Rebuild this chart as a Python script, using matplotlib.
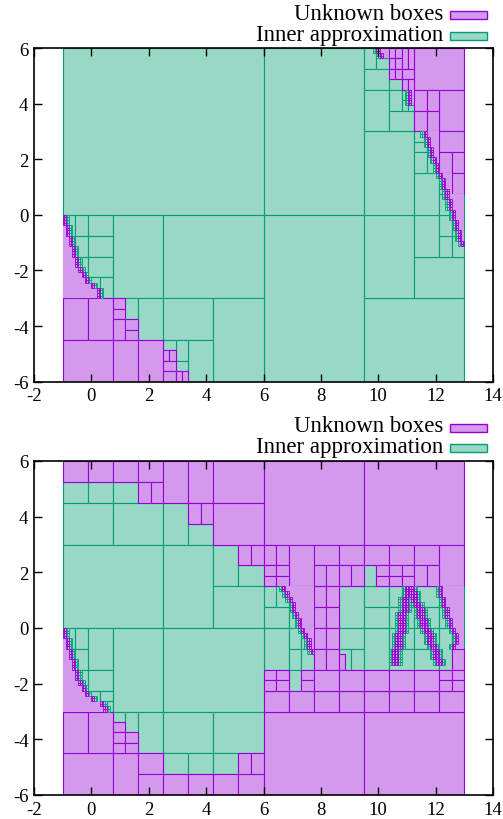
import matplotlib
matplotlib.use("Agg")
import matplotlib.pyplot as plt
from matplotlib.patches import Rectangle

# colours (gnuplot dark-violet / green, fill = 40% over white)
PURPLE = '#9400d3'
GREEN = '#009e73'
PURPLE_FILL = '#d499ed'
GREEN_FILL = '#99d8c7'

# fine boundary cells (data units)
CELL_W = 0.109375
CELL_H = 0.1875

# ---------------- top panel ----------------
# boxes are (x0, x1, y0, y1)
top_inner = [
    (-1, 6, 0, 6), (6, 9.5, 0, 6), (6, 9.5, -6, 0), (9.5, 13, -6, -3),
    (9.5, 11.25, -3, 0), (11.25, 13, -3, -1.5), (11.25, 12.125, -1.5, 0),
    (12.125, 12.5625, -1.5, -0.75), (12.125, 12.5625, -0.75, 0),
    (12.5625, 13, -1.5, -0.75), (12.5625, 13, -0.75, 0),
    (9.5, 11.25, 0, 3), (11.25, 12.125, 0, 1.5),
    (12.125, 12.5625, 0, 0.75), (12.125, 12.5625, 0.75, 1.5), (12.5625, 13, 0, 0.75),
    (11.25, 11.6875, 2.625, 3), (11.25, 11.6875, 2.25, 2.625),
    (11.25, 11.6875, 1.5, 2.25), (11.6875, 12.125, 1.5, 2.25), (11.6875, 12.125, 2.25, 3),
    (9.5, 9.9375, 5.25, 6), (9.9375, 10.375, 5.25, 5.625), (9.9375, 10.375, 5.625, 6),
    (9.5, 10.375, 4.5, 5.25), (9.5, 10.375, 3, 4.5),
    (10.375, 10.8125, 4.5, 4.875), (10.375, 10.8125, 3.75, 4.5),
    (10.8125, 11.03125, 4.125, 4.5), (10.8125, 11.03125, 3.75, 4.125),
    (11.03125, 11.25, 3.75, 3.9375), (10.375, 11.25, 3, 3.75),
    # bottom left
    (-1, -0.5625, -0.75, 0), (-0.5625, -0.125, -0.75, 0),
    (-1, -0.5625, -1.5, -0.75), (-0.5625, -0.125, -1.5, -0.75),
    (-0.125, 0.75, -0.75, 0), (-0.125, 0.75, -1.5, -0.75),
    (-1, -0.5625, -2.25, -1.5), (-0.5625, -0.125, -2.25, -1.5),
    (-0.125, 0.75, -2.25, -1.5), (-0.125, 0.3125, -3, -2.25), (0.3125, 0.75, -3, -2.25),
    (0.75, 2.5, -3, 0), (2.5, 6, -3, 0),
    (1.1875, 1.625, -3.75, -3), (1.625, 2.5, -4.5, -3), (2.5, 4.25, -4.5, -3),
    (4.25, 6, -6, -3), (3.375, 4.25, -6, -4.5), (2.9375, 3.375, -5.25, -4.5),
    (2.5, 2.9375, -4.875, -4.5), (2.9375, 3.375, -5.625, -5.25),
]
top_unknown = [
    (11.25, 13, 4.5, 6), (12.125, 13, 3, 4.5),
    (11.25, 11.6875, 3.75, 4.5), (11.6875, 12.125, 3.75, 4.5),
    (11.25, 11.6875, 3, 3.75), (11.6875, 12.125, 3, 3.75),
    (12.125, 13, 2.25, 3), (12.125, 12.5625, 1.5, 2.25), (12.5625, 13, 1.5, 2.25),
    (12.5625, 13, 0.75, 1.5),
    (10.375, 10.59375, 5.625, 6), (10.59375, 10.8125, 5.625, 6),
    (10.375, 10.59375, 5.25, 5.625), (10.59375, 10.8125, 5.25, 5.625),
    (10.8125, 11.03125, 5.25, 6), (11.03125, 11.25, 5.25, 6),
    (10.375, 10.59375, 4.875, 5.25), (10.59375, 10.8125, 4.875, 5.25),
    (10.8125, 11.25, 4.875, 5.25), (10.8125, 11.03125, 4.5, 4.875),
    (11.03125, 11.25, 4.5, 4.875),
    (-1, -0.5625, -3, -2.25), (-0.5625, -0.125, -3, -2.25),
    (-1, -0.125, -4.5, -3), (-0.125, 0.75, -4.5, -3), (-1, 0.75, -6, -4.5),
    (0.75, 1.625, -6, -4.5), (1.625, 2.5, -6, -4.5),
    (0.75, 1.1875, -3.375, -3), (0.75, 1.1875, -3.75, -3.375), (0.75, 1.1875, -4.5, -3.75),
    (1.1875, 1.625, -4.125, -3.75), (1.1875, 1.625, -4.5, -4.125),
    (2.5, 2.71875, -5.25, -4.875), (2.71875, 2.9375, -5.25, -4.875),
    (2.5, 2.9375, -5.625, -5.25), (2.5, 2.9375, -6, -5.625),
    (2.9375, 3.15625, -6, -5.625), (3.15625, 3.375, -6, -5.625),
]
# boundary rows: (row bottom y, x of boundary cell, outer edge)
top_rows_left = [
    (-0.1875, -1.0, -1), (-0.375, -1.0, -1), (-0.5625, -0.890625, -1), (-0.75, -0.890625, -1),
    (-0.9375, -0.78125, -1), (-1.125, -0.78125, -1), (-1.3125, -0.671875, -1),
    (-1.5, -0.671875, -1), (-1.6875, -0.5625, -1), (-1.875, -0.5625, -1),
    (-2.0625, -0.453125, -1), (-2.25, -0.34375, -1), (-2.4375, -0.234375, -1),
    (-2.625, -0.015625, -1), (-2.8125, 0.203125, -1), (-3.0, 0.203125, -1),
]
top_rows_right = [
    (5.8125, 9.9375, 10.375), (5.625, 10.046875, 10.375),
    (4.3125, 11.03125, 11.25), (4.125, 11.03125, 11.25), (3.9375, 11.03125, 11.25),
    (2.8125, 11.578125, 12.125), (2.625, 11.6875, 12.125), (2.4375, 11.6875, 12.125),
    (2.25, 11.796875, 12.125), (2.0625, 11.796875, 12.125), (1.875, 11.90625, 12.125),
    (1.6875, 12.015625, 12.125), (1.5, 12.015625, 12.125), (1.3125, 12.125, 12.5625),
    (1.125, 12.234375, 12.5625), (0.9375, 12.234375, 12.5625), (0.75, 12.34375, 12.5625),
    (0.5625, 12.34375, 13), (0.375, 12.453125, 13), (0.1875, 12.453125, 13),
    (0.0, 12.5625, 13), (-0.1875, 12.5625, 13), (-0.375, 12.671875, 13),
    (-0.5625, 12.671875, 13), (-0.75, 12.78125, 13), (-0.9375, 12.78125, 13),
    (-1.125, 12.890625, 13),
]

# ---------------- bottom panel ----------------
bot_inner = [
    (-1, -0.125, 4.5, 5.25), (-0.125, 0.75, 4.5, 5.25), (0.75, 1.625, 4.5, 5.25),
    (-1, 0.75, 3, 4.5), (0.75, 2.5, 3, 4.5), (2.5, 3.375, 3, 4.5), (3.375, 4.25, 3, 3.75),
    (-1, 2.5, 0, 3), (2.5, 4.25, 0, 3), (4.25, 5.125, 1.5, 3), (5.125, 6, 1.5, 2.25),
    (4.25, 6, 0, 1.5), (6, 6.4375, 0.75, 1.5), (6, 6.875, 0, 0.75), (6, 6.875, -1.5, 0),
    (-1, -0.5625, -0.75, 0), (-0.5625, -0.125, -0.75, 0),
    (-1, -0.5625, -1.5, -0.75), (-0.5625, -0.125, -1.5, -0.75), (-0.125, 0.75, -1.5, 0),
    (-1, -0.5625, -2.25, -1.5), (-0.5625, -0.125, -2.25, -1.5), (-0.125, 0.75, -2.25, -1.5),
    (-0.125, 0.3125, -3, -2.25), (0.3125, 0.75, -2.625, -2.25),
    (0.3125, 0.53125, -3, -2.625), (0.53125, 0.75, -3, -2.625),
    (0.75, 2.5, -3, 0), (2.5, 6, -3, 0),
    (0.75, 1.1875, -3.375, -3), (1.1875, 1.625, -3.75, -3), (1.625, 2.5, -4.5, -3),
    (2.5, 4.25, -4.5, -3), (4.25, 6, -4.5, -3),
    (2.5, 3.375, -5.25, -4.5), (3.375, 4.25, -5.25, -4.5), (4.25, 5.125, -5.25, -4.5),
    # middle band
    (6.4375, 6.875, 0.75, 1.5), (6.875, 7.3125, 0.75, 1.5), (7.3125, 7.75, 0.75, 1.5),
    (6.875, 7.3125, 0, 0.75), (7.3125, 7.75, 0, 0.75),
    (6.875, 7.3125, -0.75, 0), (7.3125, 7.75, -0.75, 0),
    (6.875, 7.3125, -1.5, -0.75), (7.3125, 7.75, -1.5, -0.75),
    (6.875, 7.3125, -2.25, -1.5),
    (8.625, 9.5, 0, 1.5), (8.625, 9.5, -0.75, 0), (8.625, 9.0625, -1.5, -0.75),
    (9.0625, 9.5, -1.5, -0.75), (9.5, 10.375, 0.75, 1.5), (9.5, 10.375, 0, 0.75),
    (9.5, 10.375, -1.5, 0), (9.5, 9.9375, 1.5, 2.25),
    (10.375, 10.8125, 0.75, 1.5), (10.8125, 11.25, 0.75, 1.5),
    (10.375, 11.25, 0, 0.75), (10.375, 11.25, -0.75, 0), (10.375, 11.25, -1.5, -0.75),
    (11.25, 12.125, 0.75, 1.5), (11.25, 12.125, 0, 0.75),
    (11.25, 12.125, -0.75, 0), (11.25, 12.125, -1.5, -0.75),
    (12.125, 12.5625, -1.5, 0), (12.125, 12.5625, 0.75, 1.5), (12.5625, 13, 0.75, 1.5),
    (12.125, 12.5625, 0, 0.75), (12.5625, 13, 0, 0.75),
    (12.5625, 13, -0.75, 0),
]
bot_unknown = [
    (-1, -0.125, 5.25, 6), (-0.125, 0.75, 5.25, 6), (0.75, 1.625, 5.25, 6),
    (1.625, 2.5, 5.25, 6), (1.625, 2.0625, 4.5, 5.25), (2.0625, 2.5, 4.5, 5.25),
    (2.5, 3.375, 4.5, 6), (3.375, 4.25, 4.5, 6), (4.25, 6, 4.5, 6),
    (3.375, 3.8125, 3.75, 4.5), (3.8125, 4.25, 3.75, 4.5), (4.25, 6, 3, 4.5),
    (5.125, 5.5625, 2.25, 3), (5.5625, 6, 2.25, 3),
    (6, 9.5, 3, 6), (9.5, 13, 3, 6),
    (6, 6.4375, 2.25, 3), (6.4375, 6.875, 2.25, 3), (6.875, 7.75, 1.5, 3),
    (7.75, 8.625, 2.25, 3), (8.625, 9.5, 2.25, 3), (9.5, 10.375, 2.25, 3),
    (10.375, 11.25, 2.25, 3), (11.25, 12.125, 2.25, 3), (12.125, 13, 1.5, 3),
    (6, 6.4375, 1.875, 2.25), (6.4375, 6.875, 1.875, 2.25),
    (6, 6.4375, 1.5, 1.875), (6.4375, 6.875, 1.5, 1.875),
    (7.75, 8.1875, 1.5, 2.25), (8.1875, 8.625, 1.5, 2.25),
    (8.625, 9.0625, 1.5, 2.25), (9.0625, 9.5, 1.5, 2.25),
    (9.9375, 10.375, 1.875, 2.25), (9.9375, 10.375, 1.5, 1.875),
    (10.375, 10.8125, 1.875, 2.25), (10.8125, 11.25, 1.875, 2.25),
    (10.375, 10.8125, 1.5, 1.875), (10.8125, 11.25, 1.5, 1.875),
    (11.25, 11.6875, 1.5, 2.25), (11.6875, 12.125, 1.5, 2.25),
    (7.75, 8.1875, 0.75, 1.5), (8.1875, 8.625, 0.75, 1.5),
    (7.75, 8.1875, 0, 0.75), (8.1875, 8.625, 0, 0.75),
    (7.75, 8.1875, -0.75, 0), (8.1875, 8.625, -0.75, 0),
    (7.75, 8.1875, -1.5, -0.75), (8.1875, 8.625, -1.5, -0.75),
    (8.625, 8.84375, -1.5, -0.9375), (12.5625, 13, -1.5, -0.75),
    (-1, 0.75, -6, -4.5), (0.75, 1.625, -6, -4.5),
    (1.625, 2.5, -5.25, -4.5), (1.625, 2.5, -6, -5.25),
    (2.5, 3.375, -6, -5.25), (3.375, 4.25, -6, -5.25),
    (4.25, 5.125, -6, -5.25), (5.125, 6, -6, -5.25),
    (5.125, 5.5625, -5.25, -4.5), (5.5625, 6, -5.25, -4.5),
    (-1, -0.125, -4.5, -3), (-0.125, 0.75, -4.5, -3),
    (0.75, 1.1875, -3.75, -3.375), (0.75, 1.1875, -4.125, -3.75),
    (1.1875, 1.625, -4.125, -3.75), (0.75, 1.1875, -4.5, -4.125),
    (1.1875, 1.625, -4.5, -4.125),
    (-1, -0.5625, -3, -2.25), (-0.5625, -0.125, -3, -2.25),
    (6, 9.5, -6, -3), (9.5, 13, -6, -3),
    (6, 6.875, -3, -2.25), (6.875, 7.75, -3, -2.25), (7.75, 8.625, -3, -2.25),
    (8.625, 9.5, -3, -2.25), (9.5, 10.375, -3, -2.25), (10.375, 11.25, -3, -2.25),
    (11.25, 12.125, -3, -2.25), (12.125, 13, -3, -2.25),
    (6, 6.4375, -1.875, -1.5), (6.4375, 6.875, -1.875, -1.5),
    (6, 6.4375, -2.25, -1.875), (6.4375, 6.875, -2.25, -1.875),
    (7.3125, 7.75, -1.875, -1.5), (7.3125, 7.75, -2.25, -1.875),
    (7.75, 8.625, -2.25, -1.5), (8.625, 9.5, -2.25, -1.5), (9.5, 10.375, -2.25, -1.5),
    (10.375, 11.25, -2.25, -1.5), (11.25, 12.125, -2.25, -1.5),
    (12.125, 12.5625, -1.875, -1.5), (12.5625, 13, -1.875, -1.5),
    (12.125, 12.5625, -2.25, -1.875), (12.5625, 13, -2.25, -1.875),
]
bot_rows_left = [
    (-0.1875, -1.0, -1), (-0.375, -1.0, -1), (-0.5625, -0.890625, -1), (-0.75, -0.890625, -1),
    (-0.9375, -0.78125, -1), (-1.125, -0.78125, -1), (-1.3125, -0.671875, -1),
    (-1.5, -0.671875, -1), (-1.6875, -0.5625, -1), (-1.875, -0.5625, -1),
    (-2.0625, -0.453125, -1), (-2.25, -0.34375, -1), (-2.4375, -0.234375, -1),
    (-2.625, -0.015625, -1), (-2.8125, 0.3125, -1), (-3.0, 0.421875, -1),
]
bot_rows_right = [
    # curve near x = 7
    (1.3125, 6.65625, 7.75), (1.125, 6.765625, 7.75), (0.9375, 6.875, 7.75),
    (0.75, 6.984375, 7.75), (0.5625, 6.984375, 7.75), (0.375, 7.09375, 7.75),
    (0.1875, 7.203125, 7.75), (0.0, 7.203125, 7.75), (-0.1875, 7.3125, 7.75),
    (-0.375, 7.421875, 7.75), (-0.5625, 7.53125, 7.75), (-0.75, 7.53125, 7.75),
    (-0.9375, 7.640625, 7.75),
    # curve near x = 12.5
    (1.3125, 12.125, 13), (1.125, 12.125, 13), (0.9375, 12.234375, 13),
    (0.75, 12.234375, 13), (0.5625, 12.34375, 13), (0.375, 12.34375, 13),
    (0.1875, 12.453125, 13), (0.0, 12.453125, 13), (-0.1875, 12.5625, 13),
    (-0.375, 12.671875, 13), (-0.5625, 12.671875, 13), (-0.75, 12.5625, 13),
]
# thin strips: (row bottom y, x of first cell)
bot_rows_thin = [
    (1.3125, 10.921875), (1.125, 10.921875), (0.9375, 10.8125), (0.75, 10.8125),
    (0.5625, 10.8125), (0.375, 10.703125), (0.1875, 10.703125), (0.0, 10.703125),
    (-0.1875, 10.703125), (-0.375, 10.59375), (-0.5625, 10.59375), (-0.75, 10.59375),
    (-0.9375, 10.484375), (-1.125, 10.484375), (-1.3125, 10.484375),
    (1.3125, 11.03125), (1.125, 11.140625), (0.9375, 11.140625), (0.75, 11.25),
    (0.5625, 11.359375), (0.375, 11.359375), (0.1875, 11.46875), (0.0, 11.46875),
    (-0.1875, 11.578125), (-0.375, 11.6875), (-0.5625, 11.6875), (-0.75, 11.796875),
    (-0.9375, 11.90625), (-1.125, 11.90625), (-1.3125, 12.015625),
]


def split4(box):
    # one boundary cell drawn as its four sub-cells
    x0, x1, y0, y1 = box
    xm, ym = (x0 + x1) / 2, (y0 + y1) / 2
    return [(x0, xm, y0, ym), (xm, x1, y0, ym), (x0, xm, ym, y1), (xm, x1, ym, y1)]


def rows_to_boxes(rows_left, rows_right, rows_thin):
    fill, purple, green = [], [], []
    for y, x, edge in rows_left:
        fill.append((edge, x, y, y + CELL_H))
        purple += split4((x, x + CELL_W, y, y + CELL_H))
        green += split4((x + CELL_W, x + 2 * CELL_W, y, y + CELL_H))
    for y, x, edge in rows_right:
        fill.append((x + CELL_W, edge, y, y + CELL_H))
        purple += split4((x, x + CELL_W, y, y + CELL_H))
        green += split4((x - CELL_W, x, y, y + CELL_H))
    for y, x in rows_thin:
        purple += split4((x, x + CELL_W, y, y + CELL_H))
        purple += split4((x + CELL_W, x + 2 * CELL_W, y, y + CELL_H))
        green += split4((x - CELL_W, x, y, y + CELL_H))
        green += split4((x + 2 * CELL_W, x + 3 * CELL_W, y, y + CELL_H))
    return fill, purple, green


def draw(ax, boxes, fc, ec, lw=0.8):
    for x0, x1, y0, y1 in boxes:
        if x1 <= x0:
            continue
        ax.add_patch(Rectangle((x0, y0), x1 - x0, y1 - y0, facecolor=fc,
                               edgecolor=ec, linewidth=lw, zorder=1))


def panel(ax, inner, unknown, rows_left, rows_right, rows_thin):
    draw(ax, inner, GREEN_FILL, GREEN)
    draw(ax, unknown, PURPLE_FILL, PURPLE)
    sf, sp, sg = rows_to_boxes(rows_left, rows_right, rows_thin)
    draw(ax, sf, PURPLE_FILL, 'none')
    draw(ax, sg, GREEN_FILL, GREEN, 0.6)
    draw(ax, sp, PURPLE_FILL, PURPLE, 0.6)
    ax.set_xlim(-2, 14)
    ax.set_ylim(-6, 6)
    ax.set_xticks(range(-2, 15, 2))
    ax.set_yticks(range(-6, 7, 2))
    ax.set_xticklabels([str(v) for v in range(-2, 15, 2)])
    ax.set_yticklabels([str(v) for v in range(-6, 7, 2)])
    ax.tick_params(direction='in', top=True, right=True, length=6, width=1,
                   labelsize=13.5, pad=4)
    for s in ax.spines.values():
        s.set_linewidth(1.2)
        s.set_zorder(3)
    ax.set_axisbelow(False)
    # key
    ax.text(0.891, (382.7 - 19.5) / 333.7, 'Unknown boxes', transform=ax.transAxes,
            ha='right', va='baseline', fontsize=16.5)
    ax.text(0.891, (382.7 - 40.5) / 333.7, 'Inner approximation', transform=ax.transAxes,
            ha='right', va='baseline', fontsize=16.5)
    ax.add_patch(Rectangle((0.906, (382.7 - 20) / 333.7), 0.081, 8 / 333.7,
                           transform=ax.transAxes, facecolor=PURPLE_FILL,
                           edgecolor=PURPLE, lw=1, clip_on=False))
    ax.add_patch(Rectangle((0.906, (382.7 - 40.5) / 333.7), 0.081, 8 / 333.7,
                           transform=ax.transAxes, facecolor=GREEN_FILL,
                           edgecolor=GREEN, lw=1, clip_on=False))


plt.rcParams['font.family'] = ['Liberation Serif', 'DejaVu Serif']
fig = plt.figure(figsize=(5.03, 8.2), dpi=100)
ax1 = fig.add_axes([34 / 503, 1 - 382.7 / 820, 459 / 503, 333.7 / 820])
ax2 = fig.add_axes([34 / 503, 1 - 796 / 820, 459 / 503, 334 / 820])
panel(ax1, top_inner, top_unknown, top_rows_left, top_rows_right, [])
panel(ax2, bot_inner, bot_unknown, bot_rows_left, bot_rows_right, bot_rows_thin)
fig.savefig('out.png', dpi=100)
